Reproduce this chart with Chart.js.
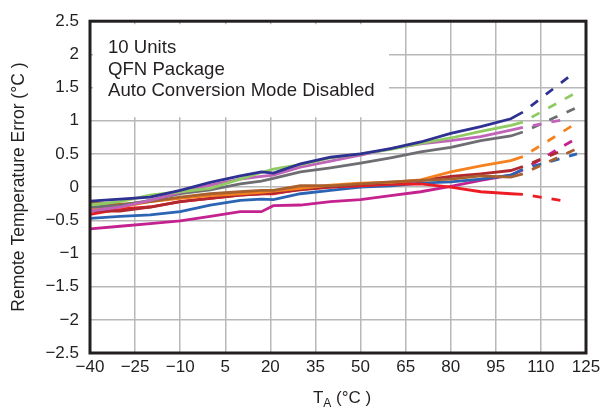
<!DOCTYPE html>
<html lang="en">
<head>
    <meta charset="UTF-8">
    <title>Remote Temperature Error vs Temperature</title>
    <script src="https://cdn.jsdelivr.net/npm/chart.js"></script>
    <style>
        body { margin: 0; background: #fff; }
        #wrap { width: 605px; height: 408px; }
    </style>
</head>
<body>
    <div id="wrap"><canvas id="errChart" width="605" height="408"></canvas></div>
    <script>
        // measured temperatures (°C)
        const temps = [-40, -30, -20, -10, 0, 10, 17, 21, 30, 40, 50, 60, 70, 80, 90, 100, 104];

        // remote temperature error per unit (°C)
        const unitNavy    = [-0.21, -0.18, -0.15, -0.05, 0.07, 0.17, 0.23, 0.21, 0.35, 0.45, 0.50, 0.58, 0.68, 0.81, 0.91, 1.03, 1.13];
        const unitGreen   = [-0.27, -0.22, -0.12, -0.07, -0.02, 0.12, 0.22, 0.27, 0.34, 0.44, 0.50, 0.57, 0.66, 0.74, 0.84, 0.93, 0.98];
        const unitOrchid  = [-0.36, -0.30, -0.20, -0.08, 0.03, 0.12, 0.16, 0.18, 0.30, 0.39, 0.48, 0.58, 0.65, 0.70, 0.76, 0.86, 0.90];
        const unitGray    = [-0.30, -0.28, -0.20, -0.10, -0.04, 0.05, 0.09, 0.13, 0.23, 0.29, 0.36, 0.44, 0.53, 0.60, 0.70, 0.77, 0.83];
        const unitBrown   = [-0.23, -0.26, -0.22, -0.15, -0.10, -0.07, -0.05, -0.05, 0.02, 0.02, 0.05, 0.08, 0.10, 0.12, 0.17, 0.15, 0.20];
        const unitOrange  = [-0.32, -0.30, -0.22, -0.17, -0.13, -0.10, -0.08, -0.06, -0.02, 0.03, 0.06, 0.07, 0.11, 0.23, 0.32, 0.40, 0.46];
        const unitDarkRed = [-0.36, -0.36, -0.30, -0.22, -0.17, -0.12, -0.10, -0.09, -0.04, 0.00, 0.04, 0.06, 0.10, 0.16, 0.20, 0.25, 0.31];
        const unitRed     = [-0.41, -0.33, -0.30, -0.22, -0.17, -0.12, -0.10, -0.10, -0.03, 0.00, 0.02, 0.04, 0.05, 0.00, -0.07, -0.10, -0.11];
        const unitBlue    = [-0.47, -0.44, -0.42, -0.37, -0.27, -0.20, -0.18, -0.19, -0.10, -0.05, 0.00, 0.02, 0.06, 0.08, 0.12, 0.18, 0.27];
        const unitMagenta = [-0.63, -0.59, -0.55, -0.51, -0.44, -0.37, -0.37, -0.28, -0.27, -0.22, -0.19, -0.13, -0.07, 0.01, 0.10, 0.18, 0.26];

        // extrapolated (dashed) end points per unit, same order as units below
        const extTemps  = [121, 122, 118, 122, 122, 121, 117, 118, 122, 122];
        const extErrors = [1.72, 1.43, 1.02, 1.20, 0.58, 0.94, 0.55, -0.21, 0.50, 0.74];

        const units  = [unitNavy, unitGreen, unitOrchid, unitGray, unitBrown, unitOrange, unitDarkRed, unitRed, unitBlue, unitMagenta];
        const colors = ['#2e3192', '#8fcb62', '#c064b9', '#6d6e71', '#a8612e', '#f5821f', '#b2282f', '#ed1c24', '#2c64b4', '#c4228f'];

        const xTicks = [-40, -25, -10, 5, 20, 35, 50, 65, 80, 95, 110, 125];
        const noteLines = ['10 Units', 'QFN Package', 'Auto Conversion Mode Disabled'];

        const FONT = '"Liberation Sans", Arial, sans-serif';
        const INK = '#231f20';
        const minus = v => String(v).replace('-', '\u2212');

        const datasets = [];
        units.forEach((vals, i) => {
            datasets.push({
                data: temps.map((t, k) => ({ x: t, y: vals[k] })),
                borderColor: colors[i],
                borderWidth: 2.8,
                pointRadius: 0,
                tension: 0
            });
            const last = temps.length - 1;
            datasets.push({
                data: [{ x: temps[last], y: vals[last] }, { x: extTemps[i], y: extErrors[i] }],
                borderColor: colors[i],
                borderWidth: 2.8,
                borderDash: [9, 10],
                borderDashOffset: 9,
                pointRadius: 0,
                tension: 0
            });
        });

        // white note box over the grid, frame, and subscripted x title
        const decor = {
            id: 'decor',
            beforeDatasetsDraw(chart) {
                const { ctx, chartArea: a } = chart;
                ctx.save();
                ctx.fillStyle = '#fff';
                ctx.fillRect(a.left + 3, a.top + 3, 296, 93);
                ctx.fillStyle = INK;
                ctx.font = '18.6px ' + FONT;
                ctx.textBaseline = 'alphabetic';
                noteLines.forEach((s, i) => ctx.fillText(s, a.left + 18, a.top + 32 + i * 21.3));
                ctx.restore();
            },
            afterDraw(chart) {
                const { ctx, chartArea: a } = chart;
                ctx.save();
                ctx.strokeStyle = INK;
                ctx.lineWidth = 3;
                ctx.strokeRect(a.left, a.top, a.right - a.left, a.bottom - a.top);

                // x axis title: T with subscript A
                ctx.fillStyle = INK;
                ctx.textBaseline = 'alphabetic';
                ctx.font = '17px ' + FONT;
                const wT = ctx.measureText('T').width;
                const wRest = ctx.measureText(' (°C )').width;
                ctx.font = '12px ' + FONT;
                const wA = ctx.measureText('A').width;
                const total = wT + wA + wRest;
                let x = (a.left + a.right) / 2 - total / 2 + 4;
                const base = 403;
                ctx.font = '17px ' + FONT;
                ctx.fillText('T', x, base);
                x += wT;
                ctx.font = '12px ' + FONT;
                ctx.fillText('A', x, base + 4);
                x += wA;
                ctx.font = '17px ' + FONT;
                ctx.fillText(' (°C )', x, base);
                ctx.restore();
            }
        };

        new Chart(document.getElementById('errChart'), {
            type: 'line',
            data: { datasets },
            options: {
                responsive: false,
                animation: false,
                layout: { padding: { top: 17, right: 19, bottom: 0, left: 0 } },
                plugins: { legend: { display: false }, tooltip: { enabled: false } },
                scales: {
                    x: {
                        type: 'linear',
                        min: -40,
                        max: 125,
                        afterBuildTicks: s => { s.ticks = xTicks.map(v => ({ value: v })); },
                        afterFit: s => { s.height = 55; },
                        grid: { color: '#b8b8b8', lineWidth: 1.5, drawTicks: false },
                        border: { display: false },
                        ticks: {
                            color: INK,
                            font: { family: FONT, size: 17 },
                            padding: 4,
                            maxRotation: 0,
                            autoSkip: false,
                            callback: v => minus(v)
                        }
                    },
                    y: {
                        min: -2.5,
                        max: 2.5,
                        afterFit: s => { s.width = 90; },
                        grid: { color: '#b8b8b8', lineWidth: 1.5, drawTicks: false },
                        border: { display: false },
                        ticks: {
                            stepSize: 0.5,
                            color: INK,
                            font: { family: FONT, size: 17 },
                            padding: 11,
                            callback: v => minus(v)
                        },
                        title: {
                            display: true,
                            text: 'Remote Temperature Error (°C )',
                            color: INK,
                            font: { family: FONT, size: 17.5 },
                            padding: { top: 9, bottom: 0 }
                        }
                    }
                }
            },
            plugins: [decor]
        });
    </script>
</body>
</html>
